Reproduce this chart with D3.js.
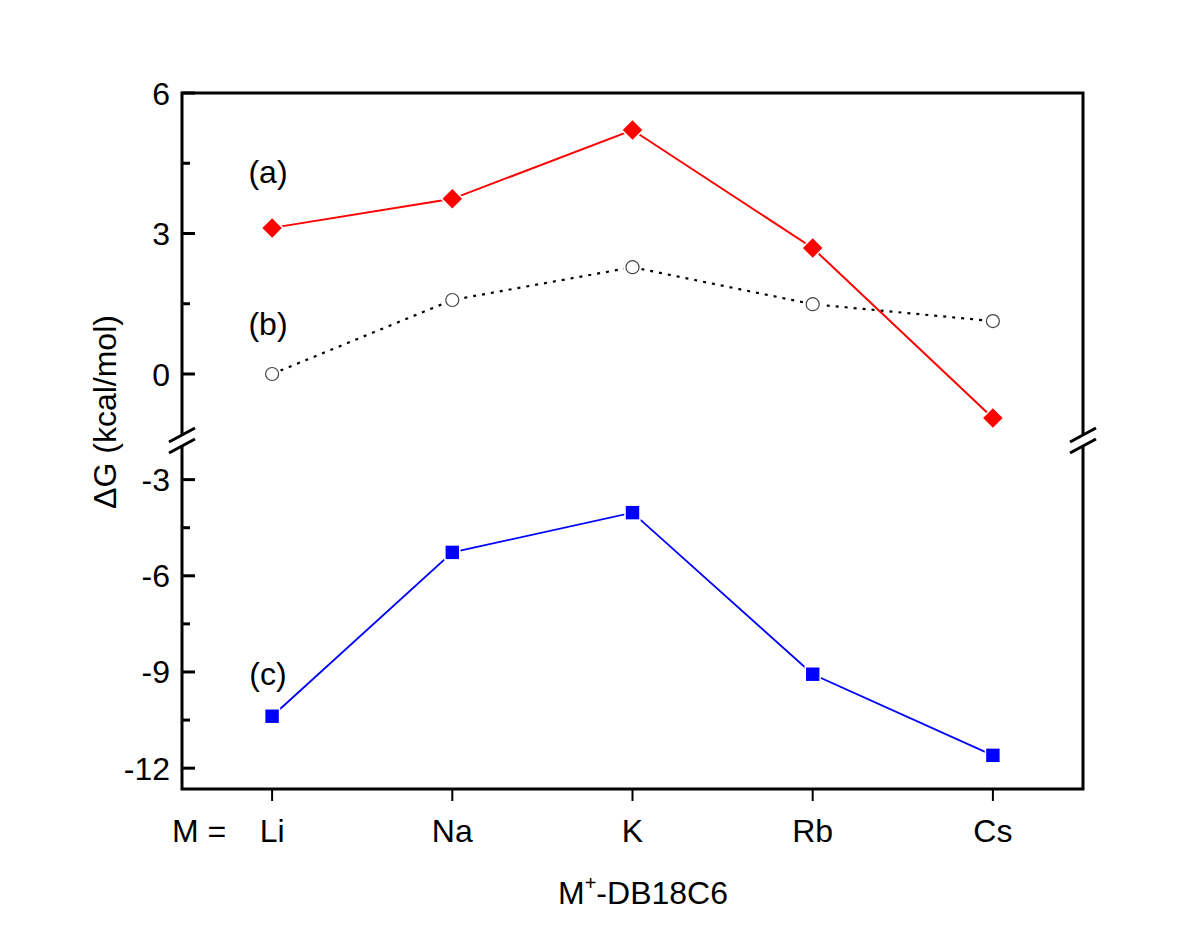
<!DOCTYPE html>
<html>
<head>
<meta charset="utf-8">
<script src="https://cdn.jsdelivr.net/npm/d3@7"></script>
<style>
  html, body { margin: 0; padding: 0; background: #fff; }
  svg { display: block; }
  text { font-family: "Liberation Sans", Arial, sans-serif; fill: #000; }
</style>
</head>
<body>
<svg id="chart" width="1200" height="927"></svg>
<script>
// ---- data ----
const categories = ["Li", "Na", "K", "Rb", "Cs"];
const seriesA = [3.12, 3.74, 5.21, 2.69, -0.94];     // (a) red diamonds
const seriesB = [0.00, 1.58, 2.28, 1.49, 1.13];      // (b) open circles, dotted
const seriesC = [-10.38, -5.27, -4.03, -9.07, -11.60]; // (c) blue squares
const upperMajorTicks = [0, 3, 6];
const upperMinorTicks = [1.5, 4.5];
const lowerMajorTicks = [-3, -6, -9, -12];
const lowerMinorTicks = [-4.5, -7.5, -10.5];
const seriesLabels = ["(a)", "(b)", "(c)"];
const seriesLabelValues = [4.25, 1.0, -9.16];

// ---- layout ----
const svg = d3.select("#chart");
const L = 182, R = 1083, T = 93, B = 789;
const breakY = 440.5;

const x = d3.scalePoint().domain(categories).range([L, R]).padding(0.5);
const yUp = d3.scaleLinear().domain([-1.42, 6]).range([breakY, T]);
const yLo = d3.scaleLinear().domain([-12.65, -1.78]).range([B, breakY]);

const font = 32;

// ---- series ----
function drawLine(data, scale, opts) {
  const line = d3.line().x((d, i) => x(categories[i])).y(d => scale(d));
  svg.append("path").datum(data)
    .attr("d", line)
    .attr("fill", "none")
    .attr("stroke", opts.color)
    .attr("stroke-width", opts.width)
    .attr("stroke-dasharray", opts.dash || null);
}

drawLine(seriesB, yUp, { color: "#000", width: 2.2, dash: "3,6" });
drawLine(seriesA, yUp, { color: "#ff0000", width: 2 });
drawLine(seriesC, yLo, { color: "#0000ff", width: 1.8 });

// markers (white halo mimics the gap between line and marker)
svg.append("g").selectAll("path").data(seriesA).join("path")
  .attr("transform", (d, i) => `translate(${x(categories[i])},${yUp(d)}) rotate(45)`)
  .attr("d", d3.symbol().type(d3.symbolSquare).size(190))
  .attr("fill", "#ff0000").attr("stroke", "#fff").attr("stroke-width", 3)
  .attr("paint-order", "stroke");

svg.append("g").selectAll("circle").data(seriesB).join("circle")
  .attr("cx", (d, i) => x(categories[i])).attr("cy", d => yUp(d))
  .attr("r", 9).attr("fill", "#fff").attr("stroke", "none");
svg.append("g").selectAll("circle").data(seriesB).join("circle")
  .attr("cx", (d, i) => x(categories[i])).attr("cy", d => yUp(d))
  .attr("r", 6.5).attr("fill", "#fff").attr("stroke", "#444").attr("stroke-width", 1.2);

svg.append("g").selectAll("path").data(seriesC).join("path")
  .attr("transform", (d, i) => `translate(${x(categories[i])},${yLo(d)})`)
  .attr("d", d3.symbol().type(d3.symbolSquare).size(180))
  .attr("fill", "#0000ff").attr("stroke", "#fff").attr("stroke-width", 3)
  .attr("paint-order", "stroke");

// ---- frame ----
svg.append("rect").attr("x", L).attr("y", T).attr("width", R - L).attr("height", B - T)
  .attr("fill", "none").attr("stroke", "#000").attr("stroke-width", 3);

// axis break on both sides
[L, R].forEach(ax => {
  svg.append("rect").attr("x", ax - 3).attr("y", breakY - 5.5).attr("width", 6).attr("height", 11)
    .attr("fill", "#fff");
  [-5.5, 5.5].forEach(off => {
    svg.append("line")
      .attr("x1", ax - 13).attr("y1", breakY + off + 7)
      .attr("x2", ax + 13).attr("y2", breakY + off - 7)
      .attr("stroke", "#000").attr("stroke-width", 3);
  });
});

// ---- y ticks (inward) ----
function yTicks(scale, major, minor) {
  const g = svg.append("g");
  g.selectAll("line.maj").data(major).join("line")
    .attr("x1", L).attr("x2", L + 13).attr("y1", d => scale(d)).attr("y2", d => scale(d))
    .attr("stroke", "#000").attr("stroke-width", 3);
  g.selectAll("line.min").data(minor).join("line")
    .attr("x1", L).attr("x2", L + 8).attr("y1", d => scale(d)).attr("y2", d => scale(d))
    .attr("stroke", "#000").attr("stroke-width", 3);
  g.selectAll("text").data(major).join("text")
    .attr("x", L - 12).attr("y", d => scale(d) + font * 0.36)
    .attr("text-anchor", "end").attr("font-size", font)
    .text(d => d);
}
yTicks(yUp, upperMajorTicks, upperMinorTicks);
yTicks(yLo, lowerMajorTicks, lowerMinorTicks);

// ---- x ticks (outward) ----
const xg = svg.append("g");
xg.selectAll("line").data(categories).join("line")
  .attr("x1", d => x(d)).attr("x2", d => x(d)).attr("y1", B).attr("y2", B + 12)
  .attr("stroke", "#000").attr("stroke-width", 2);
xg.selectAll("text").data(categories).join("text")
  .attr("x", d => x(d)).attr("y", 842)
  .attr("text-anchor", "middle").attr("font-size", font)
  .text(d => d);
svg.append("text").attr("x", 172).attr("y", 842).attr("font-size", font).text("M =");

// ---- titles ----
const xt = svg.append("text").attr("x", 643).attr("y", 904)
  .attr("text-anchor", "middle").attr("font-size", font);
xt.append("tspan").text("M");
xt.append("tspan").attr("dy", -14).attr("font-size", 20).text("+");
xt.append("tspan").attr("dy", 14).text("-DB18C6");

svg.append("text")
  .attr("transform", "translate(116,412) rotate(-90)")
  .attr("text-anchor", "middle").attr("font-size", font)
  .text("ΔG (kcal/mol)");

// ---- series labels ----
const labelScales = [yUp, yUp, yLo];
svg.append("g").selectAll("text").data(seriesLabels).join("text")
  .attr("x", 268)
  .attr("y", (d, i) => labelScales[i](seriesLabelValues[i]) + font * 0.26)
  .attr("text-anchor", "middle").attr("font-size", font)
  .text(d => d);
</script>
</body>
</html>
